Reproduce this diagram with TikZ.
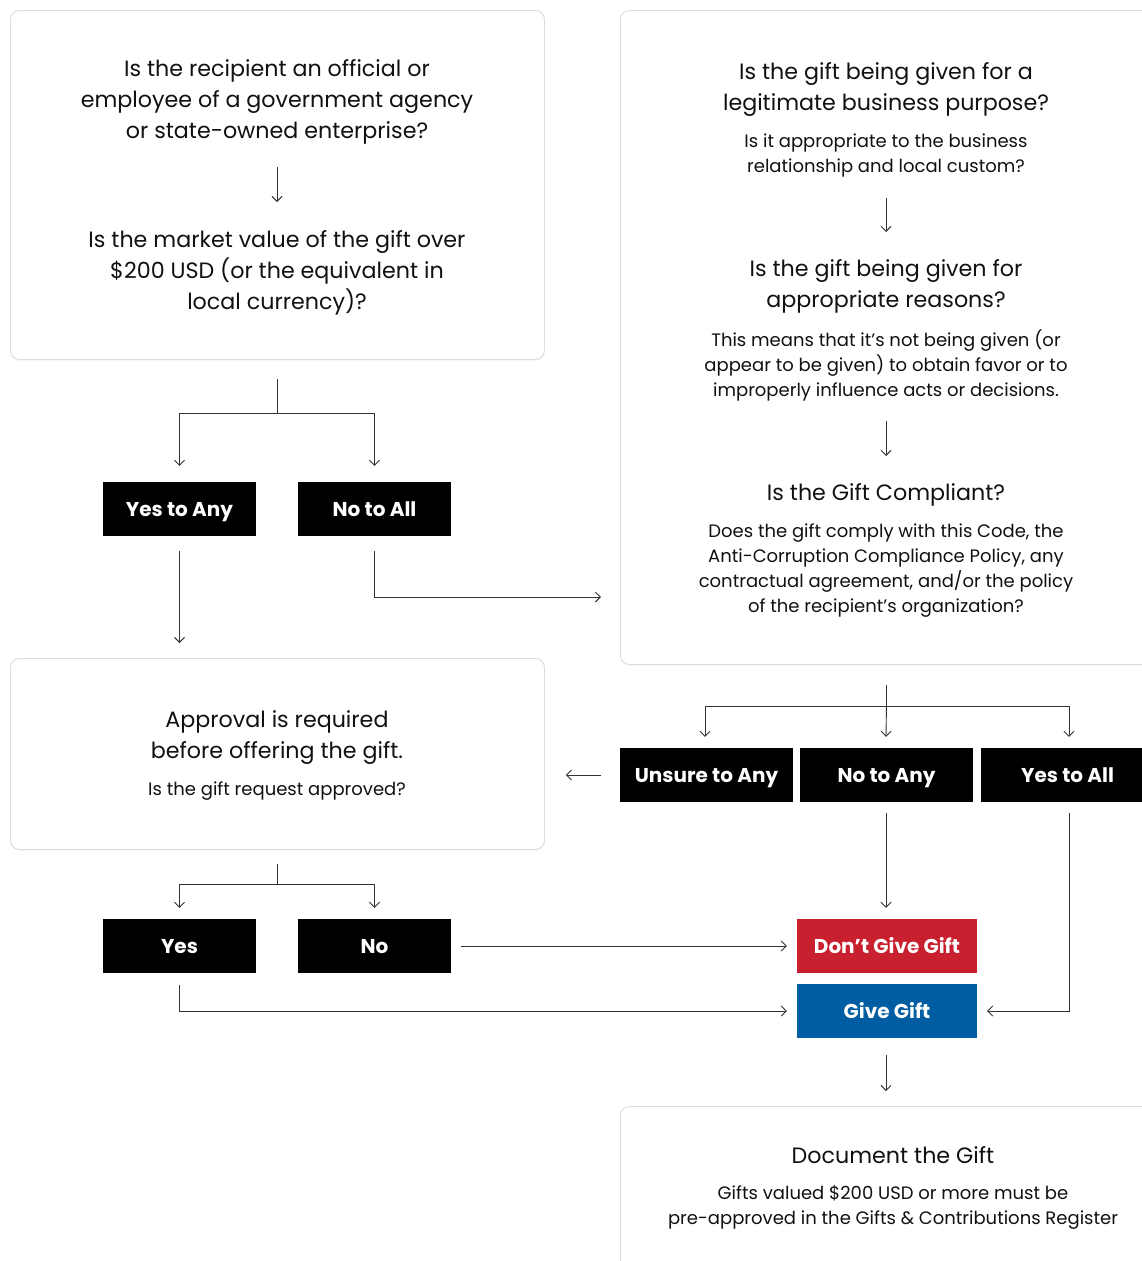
\documentclass[tikz,border=0pt]{standalone}
\usepackage{fontspec}
\setmainfont{Poppins}
\usetikzlibrary{arrows.meta,calc,shadows}
\definecolor{ink}{HTML}{111111}
\definecolor{wire}{HTML}{333333}
\definecolor{cardline}{HTML}{DCDCDC}
\definecolor{stopred}{HTML}{C8202F}
\definecolor{goblue}{HTML}{005DA2}
\tikzset{
  card/.style={draw=cardline, line width=0.9pt, fill=white, rounded corners=9pt,
    anchor=north west, inner sep=0pt, drop shadow={opacity=0.06, shadow xshift=0pt, shadow yshift=-1.5pt}},
  qtext/.style={align=center, text=ink, inner sep=0pt, font=\fontsize{22.2}{31}\selectfont},
  subtext/.style={align=center, text=ink, inner sep=0pt, font=\fontsize{18}{25}\selectfont},
  tag/.style={fill=black, text=white, inner sep=0pt, minimum width=153pt, minimum height=54pt,
    text height=16pt, text depth=2pt,
    font=\bfseries\fontsize{20}{22}\selectfont},
  widetag/.style={tag, minimum width=173pt},
  result/.style={tag, minimum width=180pt},
  wireline/.style={draw=wire, line width=0.9pt},
  conn/.style={wireline, -{Straight Barb[length=5pt,width=10pt,line width=0.9pt]}},
}
\begin{document}
\begin{tikzpicture}[x=1pt,y=-1pt]
\useasboundingbox (0,0) rectangle (1142,1261);
\clip (0,0) rectangle (1142,1261);
\fill[white] (0,0) rectangle (1142,1261);

% ---------- cards ----------
\node[card, minimum width=534pt, minimum height=349pt] (c1) at (10,10) {};
\node[card, minimum width=534pt, minimum height=191pt] (c2) at (10,658) {};
\node[card, minimum width=540pt, minimum height=654pt] (c3) at (620,10) {};
\node[card, minimum width=550pt, minimum height=200pt] (c4) at (620,1106) {};

% ---------- card 1 texts ----------
\node[qtext] (q1) at (277,101.5) {Is the recipient an official or\\employee of a government agency\\or state-owned enterprise?};
\node[qtext] (q2) at (277,272.5) {Is the market value of the gift over\\\$200 USD (or the equivalent in\\local currency)?};
\coordinate (q1a) at (277,167);
\coordinate (q2a) at (277,202);
\draw[conn] (q1a) -- (q2a);

% ---------- card 2 texts ----------
\node[qtext] (ap) at (277,738) {Approval is required\\before offering the gift.};
\node[subtext] (aps) at (277,791.5) {Is the gift request approved?};

% ---------- card 3 texts ----------
\node[qtext] (r1) at (886,89.5) {Is the gift being given for a\\legitimate business purpose?};
\node[subtext] (r1s) at (886,155) {Is it appropriate to the business\\relationship and local custom?};
\node[qtext] (r2) at (886,286.5) {Is the gift being given for\\appropriate reasons?};
\node[subtext] (r2s) at (886,365.5) {This means that it’s not being given (or\\appear to be given) to obtain favor or to\\improperly influence acts or decisions.};
\node[qtext] (r3) at (886,495) {Is the Gift Compliant?};
\node[subtext] (r3s) at (886,570.5) {Does the gift comply with this Code, the\\Anti-Corruption Compliance Policy, any\\contractual agreement, and/or the policy\\of the recipient’s organization?};
\coordinate (r1a) at (886,198);
\coordinate (r2a) at (886,232);
\coordinate (r2b) at (886,421);
\coordinate (r3a) at (886,456);
\draw[conn] (r1a) -- (r2a);
\draw[conn] (r2b) -- (r3a);

% ---------- card 4 texts ----------
\node[qtext] (d1) at (893,1155) {Document the Gift};
\node[subtext] (d1s) at (893,1207) {Gifts valued \$200 USD or more must be\\pre-approved in the Gifts \& Contributions Register};

% ---------- tags ----------
\node[tag] (yesany) at (179.5,509) {Yes to Any};
\node[tag] (noall) at (374.5,509) {No to All};
\node[widetag] (unsure) at (706.5,775) {Unsure to Any};
\node[widetag] (noany) at (886.5,775) {No to Any};
\node[widetag] (yesall) at (1067.5,775) {Yes to All};
\node[tag] (yes) at (179.5,946) {Yes};
\node[tag] (no) at (374.5,946) {No};
\node[result, fill=stopred] (dont) at (887,946) {Don’t Give Gift};
\node[result, fill=goblue] (give) at (887,1011) {Give Gift};

% ---------- connectors: card 1 ----------
\draw[wireline] ($(c1.south)+(0,19)$) -- ($(c1.south)+(0,54)$) coordinate (j1);
\draw[conn] (j1) -| ($(yesany.north)+(0,-16)$);
\draw[conn] (j1) -| ($(noall.north)+(0,-16)$);
\draw[conn] ($(yesany.south)+(0,15)$) -- ($(yesany.south |- c2.north)+(0,-15)$);
\draw[conn] ($(noall.south)+(0,15)$) |- ($(c3.north west)+(-19,587)$);

% ---------- connectors: card 3 ----------
\draw[wireline] ($(c3.south)+(-4,20)$) coordinate (j3) -- ($(c3.south)+(-4,42)$) coordinate (j3b);
\draw[conn] (j3b) -| ($(unsure.north)+(-1.5,-11)$);
\draw[conn] (j3b) -| ($(yesall.north)+(1.5,-11)$);
\draw[conn] (j3b) -- ($(noany.north)+(-0.5,-11)$);

% ---------- connectors: card 2 ----------
\draw[conn] ($(unsure.west)+(-19,0)$) -- ($(unsure.west -| c2.east)+(21,0)$);
\draw[wireline] ($(c2.south)+(0,14)$) -- ($(c2.south)+(0,35)$) coordinate (j2);
\draw[conn] (j2) -| ($(yes.north)+(0,-11)$);
\draw[conn] (j2) -| ($(no.north)+(0,-11)$);

% ---------- connectors: results ----------
\draw[conn] ($(no.east)+(10,0)$) -- ($(dont.west)+(-10,0)$);
\draw[conn] ($(yes.south)+(0,12)$) |- ($(give.west)+(-10,0)$);
\draw[conn] ($(noany.south)+(-0.5,11)$) -- ($(dont.north)+(-1,-11)$);
\draw[conn] ($(yesall.south)+(1.5,11)$) |- ($(give.east)+(10,0)$);
\draw[conn] ($(give.south)+(-1,17)$) -- ($(c4.north -| give.south)+(-1,-15)$);
\end{tikzpicture}
\end{document}
